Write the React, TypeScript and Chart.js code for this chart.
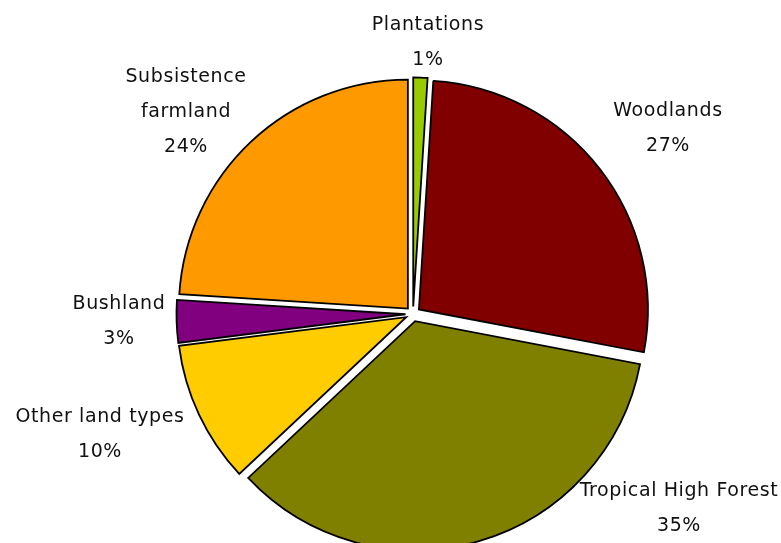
import React, { useEffect, useRef } from 'react';
import { Chart, registerables, ArcElement } from 'chart.js';

Chart.register(...registerables);

// ---- data ----
const categories: (string | string[])[] = [
  'Plantations',
  'Woodlands',
  'Tropical High Forest',
  'Other land types',
  'Bushland',
  ['Subsistence', 'farmland'],
];
const shares: number[] = [1, 27, 35, 10, 3, 24];
const sliceColors: string[] = ['#99CC00', '#800000', '#808000', '#FFCC00', '#800080', '#FF9900'];

// Keep exploded slices at an equal radius (Excel-style explosion): neutralise
// Chart.js's extra radius growth for narrow slices during drawing.
const arcProto: any = ArcElement.prototype;
if (!arcProto.__equalRadiusPatch) {
  const originalDraw = arcProto.draw;
  arcProto.draw = function (ctx: CanvasRenderingContext2D) {
    const c = this.circumference;
    if (c > 0 && c < Math.PI * 2) this.circumference = Math.PI / 2;
    try {
      originalDraw.call(this, ctx);
    } finally {
      this.circumference = c;
    }
  };
  arcProto.__equalRadiusPatch = true;
}

const sliceLabelPlugin = {
  id: 'sliceLabels',
  afterDatasetsDraw(chart: any, _args: any, opts: any) {
    const meta = chart.getDatasetMeta(0);
    const values = chart.data.datasets[0].data as number[];
    const total = values.reduce((a, b) => a + b, 0);
    const ctx: CanvasRenderingContext2D = chart.ctx;
    ctx.save();
    ctx.font = opts.font;
    (ctx as any).letterSpacing = opts.letterSpacing;
    ctx.fillStyle = opts.color;
    ctx.textAlign = 'center';
    ctx.textBaseline = 'middle';
    meta.data.forEach((arc: any, i: number) => {
      const lab = chart.data.labels[i];
      const lines: string[] = (Array.isArray(lab) ? [...lab] : [String(lab)]);
      lines.push(Math.round((values[i] / total) * 100) + '%');
      const [dx, dy] = opts.placement[i];
      const cx = arc.x + dx;
      const cy = arc.y + dy;
      const n = lines.length;
      lines.forEach((t, j) => {
        ctx.fillText(t, cx, cy + (j - (n - 1) / 2) * opts.lineHeight);
      });
    });
    ctx.restore();
  },
};

export default function App() {
  const canvasRef = useRef<HTMLCanvasElement | null>(null);

  useEffect(() => {
    if (!canvasRef.current) return;
    const chart = new Chart(canvasRef.current, {
      type: 'pie',
      data: {
        labels: categories,
        datasets: [
          {
            data: shares,
            backgroundColor: sliceColors,
            borderColor: '#000000',
            borderWidth: 1.8,
            borderJoinStyle: 'miter',
            offset: 30,
            clip: false,
          } as any,
        ],
      },
      options: {
        animation: false,
        responsive: true,
        maintainAspectRatio: false,
        events: [],
        radius: 229,
        rotation: 0,
        layout: { padding: { left: 45, right: 0, top: 85, bottom: 0 } },
        plugins: {
          legend: { display: false },
          tooltip: { enabled: false },
          sliceLabels: {
            font: '19px "DejaVu Sans"',
            letterSpacing: '0.6px',
            color: '#111111',
            lineHeight: 35,
            placement: [
              [15, -271],
              [255, -185],
              [266, 195],
              [-313, 121],
              [-294, 8],
              [-227, -202],
            ],
          },
        } as any,
      } as any,
      plugins: [sliceLabelPlugin],
    });
    return () => chart.destroy();
  }, []);

  return (
    <div style={{ position: 'fixed', left: 0, top: 0, width: 781, height: 543, background: '#ffffff' }}>
      <canvas ref={canvasRef} />
    </div>
  );
}
